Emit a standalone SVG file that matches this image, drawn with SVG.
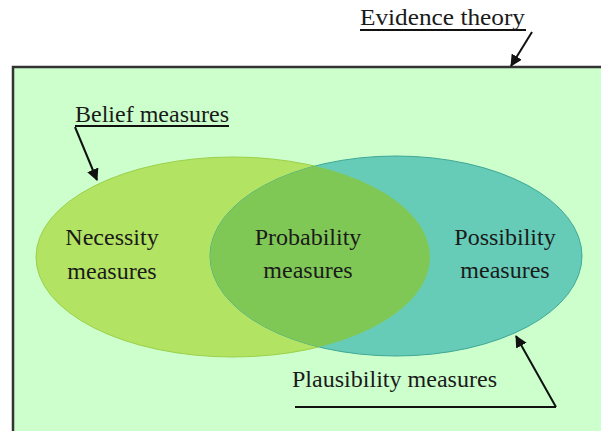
<svg xmlns="http://www.w3.org/2000/svg" width="601" height="431" viewBox="0 0 601 431">
<style>
text{font-family:'Liberation Serif','Times New Roman','DejaVu Serif',serif;font-size:24px;fill:#1a1a1a}
.lbl{text-anchor:middle}
.ln{stroke:#111;stroke-width:2;fill:none}
</style>
<defs>
<marker id="ah" viewBox="0 0 12 12" refX="11" refY="6" markerWidth="12" markerHeight="12" markerUnits="userSpaceOnUse" orient="auto">
<path d="M0,0 L12,6 L0,12 z" fill="#111"/>
</marker>
<clipPath id="rightClip"><ellipse cx="396" cy="256" rx="186" ry="100"/></clipPath>
</defs>
<rect width="601" height="431" fill="#ffffff"/>
<g id="evidence-theory">
<rect x="13" y="67" width="588" height="364" fill="#ccffcc"/>
<path d="M13,431 V67 H601" stroke="#333" stroke-width="2.5" fill="none"/>
<text x="360" y="25" textLength="165" lengthAdjust="spacingAndGlyphs">Evidence theory</text>
</g>
<g id="belief-measures">
<ellipse cx="233" cy="257" rx="197" ry="100" fill="#b3e362" stroke="#9bd04a" stroke-width="1"/>
<text x="75" y="122" textLength="154" lengthAdjust="spacingAndGlyphs">Belief measures</text>
</g>
<g id="plausibility-measures">
<ellipse cx="396" cy="256" rx="186" ry="100" fill="#66ccb8" stroke="#3ea896" stroke-width="1"/>
<text x="292" y="387" textLength="205" lengthAdjust="spacingAndGlyphs">Plausibility measures</text>
</g>
<g id="probability-measures">
<ellipse cx="233" cy="257" rx="197" ry="100" fill="#80c856" clip-path="url(#rightClip)"/>
<text class="lbl" x="308" y="245">Probability</text>
<text class="lbl" x="308" y="278">measures</text>
</g>
<g id="necessity-measures">
<text class="lbl" x="112" y="245">Necessity</text>
<text class="lbl" x="112" y="279">measures</text>
</g>
<g id="possibility-measures">
<text class="lbl" x="505" y="245">Possibility</text>
<text class="lbl" x="505" y="278">measures</text>
</g>
<g id="connectors">
<line class="ln" x1="360" y1="30" x2="526" y2="30" stroke-width="1.5"/>
<line class="ln" x1="532" y1="32" x2="511" y2="66" marker-end="url(#ah)"/>
<line class="ln" x1="75" y1="126" x2="229" y2="126" stroke-width="1.5"/>
<line class="ln" x1="75" y1="127" x2="97" y2="180" marker-end="url(#ah)"/>
<line class="ln" x1="295" y1="407" x2="556" y2="407"/>
<line class="ln" x1="556" y1="407" x2="516" y2="336" marker-end="url(#ah)"/>
</g>
</svg>
